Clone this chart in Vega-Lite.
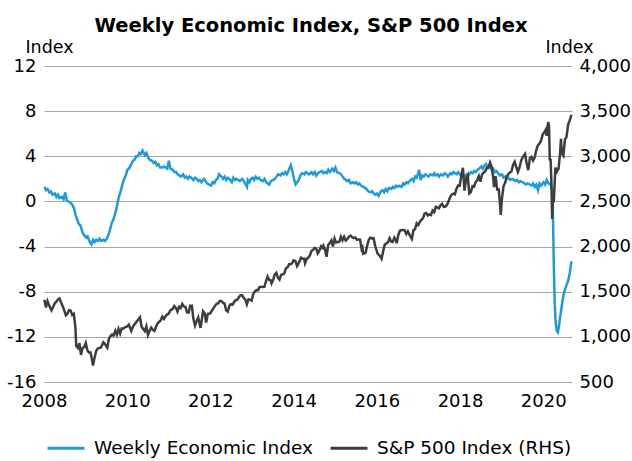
{
  "$schema": "https://vega.github.io/schema/vega-lite/v6.json",
  "width": 528,
  "height": 316,
  "autosize": {"type": "none"},
  "padding": {"left": 44, "top": 66, "right": 60, "bottom": 79},
  "background": "white",
  "config": {
    "font": "DejaVu Sans",
    "view": {"stroke": null},
    "axis": {"labelFont": "DejaVu Sans", "labelFontSize": 18, "labelColor": "#000000", "titleFont": "DejaVu Sans", "titleFontSize": 17.5, "titleColor": "#000000", "titleFontWeight": "normal", "ticks": false, "domain": false},
    "legend": {"labelFont": "DejaVu Sans"}
  },
  "title": {"text": "Weekly Economic Index, S&P 500 Index", "font": "DejaVu Sans", "fontSize": 19.5, "fontWeight": "bold", "color": "#000000", "anchor": "middle", "offset": 2, "dx": 3},
  "datasets": {
    "wei": [
      {"date":"2008-01-05","value":1.3},{"date":"2008-01-19","value":1.0},{"date":"2008-02-02","value":1.1},{"date":"2008-02-16","value":0.8},{"date":"2008-03-01","value":0.9},{"date":"2008-03-15","value":0.6},{"date":"2008-04-05","value":0.7},{"date":"2008-04-19","value":0.4},{"date":"2008-05-03","value":0.6},{"date":"2008-05-17","value":0.3},{"date":"2008-06-07","value":0.4},{"date":"2008-06-21","value":0.2},{"date":"2008-07-05","value":0.8},{"date":"2008-07-19","value":0.1},{"date":"2008-08-02","value":0.0},{"date":"2008-08-16","value":-0.1},{"date":"2008-09-06","value":-0.3},{"date":"2008-09-20","value":-0.6},{"date":"2008-10-04","value":-1.2},{"date":"2008-10-18","value":-1.6},{"date":"2008-11-01","value":-2.0},{"date":"2008-11-15","value":-2.1},{"date":"2008-12-06","value":-2.8},{"date":"2008-12-20","value":-3.0},
      {"date":"2009-01-03","value":-3.2},{"date":"2009-01-17","value":-3.1},{"date":"2009-02-07","value":-3.6},{"date":"2009-02-21","value":-3.8},{"date":"2009-03-07","value":-3.4},{"date":"2009-03-21","value":-3.6},{"date":"2009-04-04","value":-3.4},{"date":"2009-04-18","value":-3.5},{"date":"2009-05-02","value":-3.3},{"date":"2009-05-16","value":-3.5},{"date":"2009-06-06","value":-3.4},{"date":"2009-06-20","value":-3.5},{"date":"2009-07-04","value":-3.3},{"date":"2009-07-18","value":-3.0},{"date":"2009-08-01","value":-2.6},{"date":"2009-08-15","value":-2.0},{"date":"2009-09-05","value":-1.5},{"date":"2009-09-19","value":-1.0},{"date":"2009-10-03","value":-0.4},{"date":"2009-10-17","value":0.3},{"date":"2009-11-07","value":1.0},{"date":"2009-11-21","value":1.6},{"date":"2009-12-05","value":2.0},{"date":"2009-12-19","value":2.3},
      {"date":"2010-01-02","value":2.8},{"date":"2010-01-16","value":2.9},{"date":"2010-02-06","value":3.3},{"date":"2010-02-20","value":3.6},{"date":"2010-03-06","value":3.7},{"date":"2010-03-20","value":4.0},{"date":"2010-04-03","value":4.0},{"date":"2010-04-17","value":4.3},{"date":"2010-05-01","value":4.2},{"date":"2010-05-15","value":4.5},{"date":"2010-06-05","value":4.1},{"date":"2010-06-19","value":4.3},{"date":"2010-07-03","value":3.9},{"date":"2010-07-17","value":3.7},{"date":"2010-08-07","value":3.6},{"date":"2010-08-21","value":3.4},{"date":"2010-09-04","value":3.5},{"date":"2010-09-18","value":3.2},{"date":"2010-10-02","value":3.3},{"date":"2010-10-16","value":3.0},{"date":"2010-11-06","value":3.0},{"date":"2010-11-20","value":3.1},{"date":"2010-12-18","value":2.9},
      {"date":"2011-01-01","value":3.6},{"date":"2011-01-15","value":2.9},{"date":"2011-02-05","value":2.8},{"date":"2011-02-19","value":2.6},{"date":"2011-03-05","value":2.6},{"date":"2011-03-19","value":2.4},{"date":"2011-04-02","value":2.3},{"date":"2011-04-16","value":2.2},{"date":"2011-05-07","value":2.4},{"date":"2011-05-21","value":2.1},{"date":"2011-06-04","value":2.2},{"date":"2011-06-18","value":2.0},{"date":"2011-07-02","value":2.2},{"date":"2011-07-16","value":2.1},{"date":"2011-08-06","value":1.9},{"date":"2011-08-20","value":2.1},{"date":"2011-09-03","value":2.0},{"date":"2011-09-17","value":1.8},{"date":"2011-10-01","value":1.9},{"date":"2011-10-15","value":1.7},{"date":"2011-11-05","value":2.0},{"date":"2011-11-19","value":1.8},{"date":"2011-12-03","value":1.6},{"date":"2011-12-17","value":1.5},
      {"date":"2012-01-07","value":1.4},{"date":"2012-01-21","value":1.7},{"date":"2012-02-04","value":1.6},{"date":"2012-02-18","value":1.9},{"date":"2012-03-03","value":2.0},{"date":"2012-03-17","value":2.4},{"date":"2012-04-07","value":2.2},{"date":"2012-04-21","value":2.0},{"date":"2012-05-05","value":2.2},{"date":"2012-05-19","value":1.9},{"date":"2012-06-02","value":2.1},{"date":"2012-06-16","value":2.0},{"date":"2012-07-07","value":1.7},{"date":"2012-07-21","value":2.1},{"date":"2012-08-04","value":1.9},{"date":"2012-08-18","value":2.0},{"date":"2012-09-01","value":1.9},{"date":"2012-09-15","value":1.8},{"date":"2012-10-06","value":2.0},{"date":"2012-10-20","value":1.8},{"date":"2012-11-17","value":1.3},{"date":"2012-11-24","value":1.9},{"date":"2012-12-08","value":1.7},{"date":"2012-12-22","value":2.0},
      {"date":"2013-01-05","value":2.1},{"date":"2013-01-19","value":1.9},{"date":"2013-02-02","value":2.2},{"date":"2013-02-16","value":2.0},{"date":"2013-03-02","value":2.1},{"date":"2013-03-16","value":1.9},{"date":"2013-04-06","value":1.8},{"date":"2013-04-20","value":2.0},{"date":"2013-05-04","value":1.7},{"date":"2013-05-18","value":1.6},{"date":"2013-06-01","value":1.5},{"date":"2013-06-15","value":1.8},{"date":"2013-07-06","value":1.9},{"date":"2013-07-20","value":2.0},{"date":"2013-08-03","value":2.2},{"date":"2013-08-17","value":2.4},{"date":"2013-09-07","value":2.3},{"date":"2013-09-21","value":2.5},{"date":"2013-10-05","value":2.4},{"date":"2013-10-19","value":2.6},{"date":"2013-11-02","value":2.4},{"date":"2013-11-16","value":2.7},{"date":"2013-12-07","value":3.2},{"date":"2013-12-21","value":2.7},
      {"date":"2014-01-04","value":2.0},{"date":"2014-01-18","value":1.5},{"date":"2014-02-01","value":1.7},{"date":"2014-02-15","value":1.9},{"date":"2014-03-01","value":2.3},{"date":"2014-03-15","value":2.5},{"date":"2014-04-05","value":2.4},{"date":"2014-04-19","value":2.6},{"date":"2014-05-03","value":2.5},{"date":"2014-05-17","value":2.4},{"date":"2014-06-07","value":2.6},{"date":"2014-06-21","value":2.4},{"date":"2014-07-05","value":2.6},{"date":"2014-07-19","value":2.3},{"date":"2014-08-02","value":2.5},{"date":"2014-08-16","value":2.6},{"date":"2014-09-06","value":2.7},{"date":"2014-09-20","value":2.5},{"date":"2014-10-04","value":2.6},{"date":"2014-10-18","value":2.5},{"date":"2014-11-01","value":2.8},{"date":"2014-11-15","value":2.6},{"date":"2014-12-06","value":2.9},{"date":"2014-12-20","value":2.7},
      {"date":"2015-01-03","value":3.0},{"date":"2015-01-17","value":2.6},{"date":"2015-02-07","value":2.5},{"date":"2015-02-21","value":2.4},{"date":"2015-03-07","value":2.2},{"date":"2015-03-21","value":2.0},{"date":"2015-04-04","value":1.9},{"date":"2015-04-18","value":1.8},{"date":"2015-05-02","value":1.9},{"date":"2015-05-16","value":1.6},{"date":"2015-06-06","value":1.7},{"date":"2015-06-20","value":1.6},{"date":"2015-07-04","value":1.7},{"date":"2015-07-18","value":1.5},{"date":"2015-08-01","value":1.6},{"date":"2015-08-15","value":1.4},{"date":"2015-09-05","value":1.3},{"date":"2015-09-19","value":1.2},{"date":"2015-10-03","value":1.1},{"date":"2015-10-17","value":0.9},{"date":"2015-11-07","value":0.8},{"date":"2015-11-21","value":0.9},{"date":"2015-12-05","value":0.7},{"date":"2015-12-19","value":0.6},
      {"date":"2016-01-02","value":0.7},{"date":"2016-01-16","value":0.5},{"date":"2016-02-06","value":0.9},{"date":"2016-02-20","value":1.0},{"date":"2016-03-05","value":0.8},{"date":"2016-03-19","value":1.1},{"date":"2016-04-02","value":0.9},{"date":"2016-04-16","value":1.2},{"date":"2016-05-07","value":1.1},{"date":"2016-05-21","value":1.3},{"date":"2016-06-04","value":1.2},{"date":"2016-06-18","value":1.4},{"date":"2016-07-02","value":1.3},{"date":"2016-07-16","value":1.4},{"date":"2016-08-06","value":1.3},{"date":"2016-08-20","value":1.6},{"date":"2016-09-03","value":1.5},{"date":"2016-09-17","value":1.7},{"date":"2016-10-01","value":1.6},{"date":"2016-10-15","value":1.8},{"date":"2016-11-05","value":2.0},{"date":"2016-11-19","value":1.8},{"date":"2016-12-03","value":2.2},{"date":"2016-12-17","value":2.1},
      {"date":"2017-01-07","value":2.8},{"date":"2017-01-21","value":1.9},{"date":"2017-02-04","value":2.3},{"date":"2017-02-18","value":2.2},{"date":"2017-03-04","value":2.4},{"date":"2017-03-18","value":2.3},{"date":"2017-04-01","value":2.2},{"date":"2017-04-15","value":2.4},{"date":"2017-05-06","value":2.3},{"date":"2017-05-20","value":2.5},{"date":"2017-06-03","value":2.3},{"date":"2017-06-17","value":2.4},{"date":"2017-07-01","value":2.2},{"date":"2017-07-15","value":2.4},{"date":"2017-08-05","value":2.3},{"date":"2017-08-19","value":2.5},{"date":"2017-09-02","value":2.4},{"date":"2017-09-16","value":2.2},{"date":"2017-10-07","value":2.5},{"date":"2017-10-21","value":2.4},{"date":"2017-11-04","value":2.6},{"date":"2017-11-18","value":2.5},{"date":"2017-12-02","value":2.4},{"date":"2017-12-16","value":2.6},
      {"date":"2018-01-06","value":2.3},{"date":"2018-01-20","value":2.5},{"date":"2018-02-03","value":2.4},{"date":"2018-02-17","value":2.2},{"date":"2018-03-03","value":2.4},{"date":"2018-03-17","value":2.3},{"date":"2018-04-07","value":2.6},{"date":"2018-04-21","value":2.5},{"date":"2018-05-05","value":2.7},{"date":"2018-05-19","value":2.6},{"date":"2018-06-02","value":2.8},{"date":"2018-06-16","value":2.9},{"date":"2018-07-07","value":3.1},{"date":"2018-07-21","value":2.9},{"date":"2018-08-04","value":3.2},{"date":"2018-08-18","value":3.3},{"date":"2018-09-01","value":3.0},{"date":"2018-09-15","value":3.2},{"date":"2018-10-06","value":2.8},{"date":"2018-10-20","value":2.9},{"date":"2018-11-03","value":2.6},{"date":"2018-11-17","value":2.7},{"date":"2018-12-01","value":2.5},{"date":"2018-12-15","value":2.3},
      {"date":"2019-01-05","value":2.4},{"date":"2019-01-19","value":2.1},{"date":"2019-02-02","value":2.2},{"date":"2019-02-16","value":2.0},{"date":"2019-03-02","value":2.1},{"date":"2019-03-16","value":1.9},{"date":"2019-04-06","value":2.0},{"date":"2019-04-20","value":1.9},{"date":"2019-05-04","value":1.8},{"date":"2019-05-18","value":1.9},{"date":"2019-06-01","value":1.7},{"date":"2019-06-15","value":1.8},{"date":"2019-07-06","value":1.7},{"date":"2019-07-20","value":1.6},{"date":"2019-08-03","value":1.5},{"date":"2019-08-17","value":1.6},{"date":"2019-09-07","value":1.5},{"date":"2019-09-21","value":1.4},{"date":"2019-10-05","value":1.6},{"date":"2019-10-19","value":1.3},{"date":"2019-11-02","value":1.5},{"date":"2019-11-16","value":1.0},{"date":"2019-11-30","value":1.6},{"date":"2019-12-14","value":1.4},
      {"date":"2020-01-04","value":1.7},{"date":"2020-01-18","value":1.5},{"date":"2020-02-01","value":1.9},{"date":"2020-02-15","value":1.6},{"date":"2020-03-07","value":1.5},{"date":"2020-03-21","value":1.0},{"date":"2020-03-28","value":-2.0},{"date":"2020-04-04","value":-6.0},{"date":"2020-04-11","value":-9.0},{"date":"2020-04-18","value":-10.5},{"date":"2020-04-25","value":-11.2},{"date":"2020-05-02","value":-11.5},{"date":"2020-05-09","value":-11.6},{"date":"2020-05-16","value":-11.2},{"date":"2020-05-30","value":-10.2},{"date":"2020-06-13","value":-9.2},{"date":"2020-06-27","value":-8.3},{"date":"2020-07-11","value":-7.8},{"date":"2020-07-25","value":-7.4},{"date":"2020-08-08","value":-7.0},{"date":"2020-08-22","value":-6.3},{"date":"2020-09-05","value":-5.3}
    ],
    "spx": [
      {"date":"2008-01-04","value":1411},{"date":"2008-01-18","value":1325},{"date":"2008-02-01","value":1395},{"date":"2008-02-15","value":1349},{"date":"2008-03-07","value":1294},{"date":"2008-03-21","value":1330},{"date":"2008-04-04","value":1370},{"date":"2008-04-18","value":1390},{"date":"2008-05-02","value":1413},{"date":"2008-05-16","value":1425},{"date":"2008-06-06","value":1360},{"date":"2008-06-20","value":1318},{"date":"2008-07-11","value":1240},{"date":"2008-07-25","value":1257},{"date":"2008-08-08","value":1296},{"date":"2008-08-22","value":1292},{"date":"2008-09-05","value":1242},{"date":"2008-09-19","value":1255},{"date":"2008-10-03","value":1099},{"date":"2008-10-10","value":899},{"date":"2008-10-24","value":877},{"date":"2008-11-07","value":930},{"date":"2008-11-21","value":800},{"date":"2008-12-05","value":876},{"date":"2008-12-19","value":887},
      {"date":"2009-01-02","value":931},{"date":"2009-01-16","value":850},{"date":"2009-01-30","value":826},{"date":"2009-02-13","value":827},{"date":"2009-02-27","value":735},{"date":"2009-03-06","value":683},{"date":"2009-03-20","value":768},{"date":"2009-04-03","value":843},{"date":"2009-04-17","value":870},{"date":"2009-05-01","value":877},{"date":"2009-05-15","value":882},{"date":"2009-06-05","value":940},{"date":"2009-06-19","value":921},{"date":"2009-07-10","value":880},{"date":"2009-07-24","value":979},{"date":"2009-08-07","value":1010},{"date":"2009-08-21","value":1026},{"date":"2009-09-04","value":1016},{"date":"2009-09-18","value":1068},{"date":"2009-10-02","value":1025},{"date":"2009-10-16","value":1087},{"date":"2009-10-30","value":1036},{"date":"2009-11-13","value":1093},{"date":"2009-11-27","value":1091},{"date":"2009-12-11","value":1106},{"date":"2009-12-31","value":1115},
      {"date":"2010-01-15","value":1136},{"date":"2010-02-05","value":1066},{"date":"2010-02-19","value":1109},{"date":"2010-03-05","value":1138},{"date":"2010-03-19","value":1159},{"date":"2010-04-09","value":1194},{"date":"2010-04-23","value":1217},{"date":"2010-05-07","value":1111},{"date":"2010-05-21","value":1087},{"date":"2010-06-04","value":1064},{"date":"2010-06-18","value":1117},{"date":"2010-07-02","value":1022},{"date":"2010-07-16","value":1065},{"date":"2010-07-30","value":1102},{"date":"2010-08-13","value":1079},{"date":"2010-08-27","value":1065},{"date":"2010-09-10","value":1110},{"date":"2010-09-24","value":1149},{"date":"2010-10-08","value":1165},{"date":"2010-10-22","value":1183},{"date":"2010-11-05","value":1225},{"date":"2010-11-19","value":1199},{"date":"2010-12-10","value":1240},{"date":"2010-12-31","value":1258},
      {"date":"2011-01-14","value":1293},{"date":"2011-02-04","value":1310},{"date":"2011-02-18","value":1343},{"date":"2011-03-04","value":1321},{"date":"2011-03-18","value":1279},{"date":"2011-04-01","value":1332},{"date":"2011-04-15","value":1319},{"date":"2011-04-29","value":1364},{"date":"2011-05-13","value":1338},{"date":"2011-05-27","value":1331},{"date":"2011-06-10","value":1271},{"date":"2011-06-24","value":1268},{"date":"2011-07-08","value":1344},{"date":"2011-07-22","value":1345},{"date":"2011-08-05","value":1199},{"date":"2011-08-19","value":1124},{"date":"2011-09-02","value":1174},{"date":"2011-09-16","value":1216},{"date":"2011-09-30","value":1131},{"date":"2011-10-07","value":1099},{"date":"2011-10-28","value":1285},{"date":"2011-11-11","value":1264},{"date":"2011-11-25","value":1159},{"date":"2011-12-09","value":1255},{"date":"2011-12-30","value":1258},
      {"date":"2012-01-13","value":1289},{"date":"2012-01-27","value":1316},{"date":"2012-02-10","value":1343},{"date":"2012-02-24","value":1366},{"date":"2012-03-09","value":1371},{"date":"2012-03-23","value":1397},{"date":"2012-04-06","value":1398},{"date":"2012-04-20","value":1378},{"date":"2012-05-04","value":1369},{"date":"2012-05-18","value":1295},{"date":"2012-06-01","value":1278},{"date":"2012-06-15","value":1342},{"date":"2012-06-29","value":1362},{"date":"2012-07-13","value":1356},{"date":"2012-07-27","value":1386},{"date":"2012-08-10","value":1406},{"date":"2012-08-24","value":1411},{"date":"2012-09-07","value":1438},{"date":"2012-09-21","value":1460},{"date":"2012-10-05","value":1460},{"date":"2012-10-19","value":1433},{"date":"2012-11-02","value":1414},{"date":"2012-11-16","value":1360},{"date":"2012-11-30","value":1416},{"date":"2012-12-14","value":1413},{"date":"2012-12-28","value":1402},
      {"date":"2013-01-11","value":1472},{"date":"2013-01-25","value":1503},{"date":"2013-02-08","value":1518},{"date":"2013-02-22","value":1516},{"date":"2013-03-08","value":1551},{"date":"2013-03-22","value":1556},{"date":"2013-04-05","value":1553},{"date":"2013-04-19","value":1555},{"date":"2013-05-03","value":1614},{"date":"2013-05-17","value":1667},{"date":"2013-05-31","value":1631},{"date":"2013-06-14","value":1626},{"date":"2013-06-21","value":1593},{"date":"2013-07-05","value":1632},{"date":"2013-07-19","value":1692},{"date":"2013-08-02","value":1710},{"date":"2013-08-16","value":1656},{"date":"2013-08-30","value":1633},{"date":"2013-09-13","value":1688},{"date":"2013-09-27","value":1692},{"date":"2013-10-11","value":1703},{"date":"2013-10-25","value":1760},{"date":"2013-11-08","value":1771},{"date":"2013-11-22","value":1805},{"date":"2013-12-06","value":1805},{"date":"2013-12-20","value":1818},{"date":"2013-12-31","value":1848},
      {"date":"2014-01-17","value":1838},{"date":"2014-01-31","value":1783},{"date":"2014-02-07","value":1797},{"date":"2014-02-21","value":1836},{"date":"2014-03-07","value":1878},{"date":"2014-03-21","value":1866},{"date":"2014-04-04","value":1865},{"date":"2014-04-11","value":1816},{"date":"2014-04-25","value":1863},{"date":"2014-05-09","value":1878},{"date":"2014-05-23","value":1900},{"date":"2014-06-06","value":1950},{"date":"2014-06-20","value":1963},{"date":"2014-07-03","value":1985},{"date":"2014-07-18","value":1978},{"date":"2014-08-01","value":1925},{"date":"2014-08-15","value":1955},{"date":"2014-08-29","value":2003},{"date":"2014-09-12","value":1985},{"date":"2014-09-19","value":2010},{"date":"2014-10-03","value":1968},{"date":"2014-10-17","value":1887},{"date":"2014-10-31","value":2018},{"date":"2014-11-14","value":2039},{"date":"2014-11-28","value":2068},{"date":"2014-12-12","value":2002},{"date":"2014-12-26","value":2088},
      {"date":"2015-01-09","value":2045},{"date":"2015-01-23","value":2051},{"date":"2015-02-06","value":2055},{"date":"2015-02-20","value":2110},{"date":"2015-03-06","value":2071},{"date":"2015-03-20","value":2108},{"date":"2015-04-03","value":2067},{"date":"2015-04-17","value":2081},{"date":"2015-05-01","value":2108},{"date":"2015-05-15","value":2122},{"date":"2015-05-29","value":2107},{"date":"2015-06-12","value":2094},{"date":"2015-06-26","value":2101},{"date":"2015-07-10","value":2076},{"date":"2015-07-24","value":2079},{"date":"2015-08-07","value":2077},{"date":"2015-08-21","value":1971},{"date":"2015-08-28","value":1988},{"date":"2015-09-04","value":1921},{"date":"2015-09-25","value":1931},{"date":"2015-10-09","value":2014},{"date":"2015-10-23","value":2075},{"date":"2015-11-06","value":2099},{"date":"2015-11-20","value":2089},{"date":"2015-12-04","value":2092},{"date":"2015-12-18","value":2006},
      {"date":"2016-01-08","value":1922},{"date":"2016-01-22","value":1907},{"date":"2016-02-05","value":1880},{"date":"2016-02-12","value":1865},{"date":"2016-02-26","value":1948},{"date":"2016-03-11","value":2022},{"date":"2016-03-25","value":2035},{"date":"2016-04-08","value":2048},{"date":"2016-04-22","value":2092},{"date":"2016-05-06","value":2057},{"date":"2016-05-20","value":2052},{"date":"2016-06-03","value":2099},{"date":"2016-06-17","value":2071},{"date":"2016-06-24","value":2037},{"date":"2016-07-08","value":2130},{"date":"2016-07-22","value":2175},{"date":"2016-08-05","value":2183},{"date":"2016-08-19","value":2184},{"date":"2016-09-02","value":2180},{"date":"2016-09-16","value":2139},{"date":"2016-09-30","value":2168},{"date":"2016-10-14","value":2133},{"date":"2016-11-04","value":2085},{"date":"2016-11-18","value":2182},{"date":"2016-12-02","value":2192},{"date":"2016-12-16","value":2258},{"date":"2016-12-30","value":2239},
      {"date":"2017-01-13","value":2275},{"date":"2017-01-27","value":2295},{"date":"2017-02-10","value":2316},{"date":"2017-02-24","value":2367},{"date":"2017-03-10","value":2373},{"date":"2017-03-24","value":2344},{"date":"2017-04-07","value":2356},{"date":"2017-04-21","value":2349},{"date":"2017-05-05","value":2399},{"date":"2017-05-19","value":2382},{"date":"2017-06-02","value":2439},{"date":"2017-06-16","value":2433},{"date":"2017-06-30","value":2423},{"date":"2017-07-14","value":2459},{"date":"2017-07-28","value":2472},{"date":"2017-08-11","value":2441},{"date":"2017-08-25","value":2444},{"date":"2017-09-08","value":2461},{"date":"2017-09-22","value":2502},{"date":"2017-10-06","value":2549},{"date":"2017-10-20","value":2575},{"date":"2017-11-03","value":2587},{"date":"2017-11-17","value":2579},{"date":"2017-12-01","value":2642},{"date":"2017-12-15","value":2675},{"date":"2017-12-29","value":2674},
      {"date":"2018-01-12","value":2786},{"date":"2018-01-26","value":2873},{"date":"2018-02-09","value":2620},{"date":"2018-02-23","value":2747},{"date":"2018-03-09","value":2786},{"date":"2018-03-23","value":2588},{"date":"2018-04-06","value":2604},{"date":"2018-04-20","value":2670},{"date":"2018-05-04","value":2663},{"date":"2018-05-18","value":2713},{"date":"2018-06-01","value":2735},{"date":"2018-06-15","value":2780},{"date":"2018-06-29","value":2718},{"date":"2018-07-13","value":2801},{"date":"2018-07-27","value":2819},{"date":"2018-08-10","value":2833},{"date":"2018-08-24","value":2875},{"date":"2018-09-07","value":2872},{"date":"2018-09-21","value":2930},{"date":"2018-10-05","value":2886},{"date":"2018-10-19","value":2768},{"date":"2018-10-26","value":2658},{"date":"2018-11-09","value":2781},{"date":"2018-11-23","value":2633},{"date":"2018-12-07","value":2633},{"date":"2018-12-21","value":2417},{"date":"2018-12-24","value":2351},
      {"date":"2019-01-04","value":2532},{"date":"2019-01-18","value":2671},{"date":"2019-02-01","value":2707},{"date":"2019-02-15","value":2776},{"date":"2019-03-01","value":2804},{"date":"2019-03-15","value":2822},{"date":"2019-03-29","value":2834},{"date":"2019-04-12","value":2907},{"date":"2019-04-26","value":2940},{"date":"2019-05-10","value":2881},{"date":"2019-05-24","value":2826},{"date":"2019-06-07","value":2873},{"date":"2019-06-21","value":2950},{"date":"2019-07-05","value":2990},{"date":"2019-07-26","value":3026},{"date":"2019-08-09","value":2919},{"date":"2019-08-23","value":2847},{"date":"2019-09-06","value":2979},{"date":"2019-09-20","value":2992},{"date":"2019-10-04","value":2952},{"date":"2019-10-18","value":2986},{"date":"2019-11-01","value":3067},{"date":"2019-11-15","value":3120},{"date":"2019-11-29","value":3141},{"date":"2019-12-13","value":3169},{"date":"2019-12-27","value":3240},
      {"date":"2020-01-10","value":3265},{"date":"2020-01-24","value":3295},{"date":"2020-01-31","value":3226},{"date":"2020-02-14","value":3380},{"date":"2020-02-21","value":3338},{"date":"2020-02-28","value":2954},{"date":"2020-03-06","value":2972},{"date":"2020-03-13","value":2711},{"date":"2020-03-20","value":2305},{"date":"2020-03-27","value":2541},{"date":"2020-04-03","value":2489},{"date":"2020-04-17","value":2875},{"date":"2020-05-01","value":2831},{"date":"2020-05-15","value":2864},{"date":"2020-05-29","value":3044},{"date":"2020-06-05","value":3194},{"date":"2020-06-12","value":3041},{"date":"2020-06-26","value":3009},{"date":"2020-07-10","value":3185},{"date":"2020-07-24","value":3216},{"date":"2020-08-07","value":3351},{"date":"2020-08-21","value":3397},{"date":"2020-09-05","value":3460}
    ]
  },
  "layer": [
    {
      "data": {"name": "wei"},
      "mark": {"type": "line", "strokeWidth": 2.5, "interpolate": "linear"},
      "encoding": {
        "x": {"field": "date", "type": "temporal", "scale": {"domain": ["2008-01-01", "2020-09-10"], "nice": false},
          "axis": {"title": null, "values": [{"year": 2008}, {"year": 2010}, {"year": 2012}, {"year": 2014}, {"year": 2016}, {"year": 2018}, {"year": 2020}], "format": "%Y", "grid": false, "labelPadding": 10, "labelFlush": false}},
        "y": {"field": "value", "type": "quantitative", "scale": {"domain": [-16, 12], "nice": false, "zero": false},
          "axis": {"orient": "left", "title": "Index", "titleAngle": 0, "titleAlign": "center", "titleBaseline": "alphabetic", "titleX": 5, "titleY": -14, "values": [-16, -12, -8, -4, 0, 4, 8, 12], "labelExpr": "toString(datum.value)", "grid": true, "gridColor": "#a6a6a6", "gridWidth": 1, "labelPadding": 8}},
        "color": {"datum": "Weekly Economic Index", "type": "nominal",
          "scale": {"domain": ["Weekly Economic Index", "S&P 500 Index (RHS)"], "range": ["#1f9bd7", "#3d3d3d"]},
          "legend": {"title": null, "orient": "none", "legendX": 2, "legendY": 362, "direction": "horizontal", "symbolType": "stroke", "symbolStrokeWidth": 3, "symbolSize": 1369, "labelFontSize": 18.5, "labelColor": "#000000", "labelLimit": 0, "columnPadding": 10, "labelOffset": 8}}
      }
    },
    {
      "data": {"name": "spx"},
      "mark": {"type": "line", "strokeWidth": 2.5},
      "encoding": {
        "x": {"field": "date", "type": "temporal"},
        "y": {"field": "value", "type": "quantitative", "scale": {"domain": [500, 4000], "nice": false, "zero": false},
          "axis": {"orient": "right", "title": "Index", "titleAngle": 0, "titleAlign": "center", "titleBaseline": "alphabetic", "titleX": -3, "titleY": -14, "values": [500, 1000, 1500, 2000, 2500, 3000, 3500, 4000], "format": ",.0f", "grid": false, "labelPadding": 7}},
        "color": {"datum": "S&P 500 Index (RHS)", "type": "nominal"}
      }
    }
  ],
  "resolve": {"scale": {"y": "independent"}}
}
